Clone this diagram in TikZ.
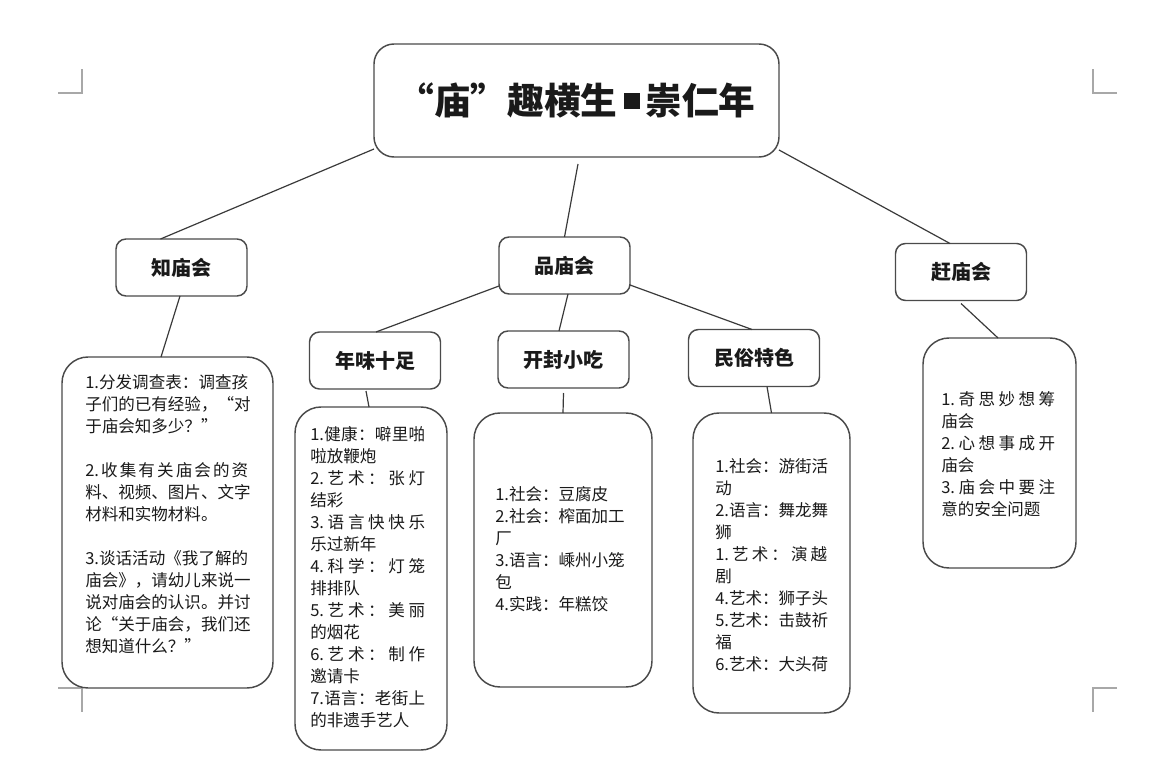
\documentclass[tikz,border=0pt]{standalone}
\usepackage{fontspec}
\setmainfont{Noto Sans CJK SC}
\newdimen\px \px=0.75pt
\def\jl#1#2{\hbox to #1{\jlx#2\relax}}
\def\jlx#1{\ifx\relax#1\else#1\expandafter\jly\fi}
\def\jly#1{\ifx\relax#1\else\hfill#1\expandafter\jly\fi}
\definecolor{boxcol}{HTML}{4A4A4A}
\definecolor{linecol}{HTML}{3A3A3A}
\definecolor{cropcol}{HTML}{A8A8A8}
\definecolor{txtcol}{HTML}{1A1A1A}
\tikzset{
  box/.style={draw=boxcol, line width=1.1pt, fill=white, outer sep=0pt, inner sep=0pt, text=txtcol},
  head/.style={box, rounded corners=10\px, minimum width=131\px, minimum height=57\px,
    font=\bfseries\fontsize{15pt}{18pt}\selectfont},
  tbox/.style={box, rounded corners=26\px},
  body/.style={inner sep=0pt, anchor=west, align=left, text=txtcol,
    font=\fontsize{12.4pt}{16.5pt}\selectfont},
  link/.style={draw=linecol, line width=0.9pt},
  crop/.style={draw=cropcol, line width=1.1pt}
}
\begin{document}
\begin{tikzpicture}[x=0.75pt,y=-0.75pt]
\useasboundingbox (0,0) rectangle (1163,766);
% crop marks
\draw[crop] (58,93) -- (82,93) -- (82,69);
\draw[crop] (1117,93) -- (1093,93) -- (1093,69);
\draw[crop] (58,688) -- (82,688) -- (82,712);
\draw[crop] (1117,688) -- (1093,688) -- (1093,712);
% title
\node[box, rounded corners=20\px, minimum width=405\px, minimum height=113\px,
  font=\bfseries\fontsize{27.5pt}{30pt}\selectfont] (title) at (576.5,100.5)
  {“庙”趣横生\,\rule[4.5pt]{12pt}{12pt}\,崇仁年};
% headings
\node[head] (zhi) at (181.5,267.5) {知庙会};
\node[head] (pin) at (564.5,265.5) {品庙会};
\node[head] (gan) at (961,272) {赶庙会};
\node[head] (nian) at (375,360.5) {年味十足};
\node[head] (kai) at (563.5,359.5) {开封小吃};
\node[head] (min) at (754,358) {民俗特色};
% text boxes
\node[tbox, minimum width=211\px, minimum height=331\px] (tzhi) at (167.5,522.5) {};
\node[tbox, minimum width=152\px, minimum height=343\px] (tnian) at (371,578.5) {};
\node[tbox, minimum width=178\px, minimum height=274\px] (tkai) at (563,550) {};
\node[tbox, minimum width=157\px, minimum height=300\px] (tmin) at (771.5,563) {};
\node[tbox, minimum width=153\px, minimum height=230\px] (tgan) at (999.5,453) {};
% texts
\node[body] (tzhi-t) at (85,514) {%
\jl{163\px}{{1.}分发调查表：调查孩}\\
\jl{163\px}{子们的已有经验，“对}\\
于庙会知多少？”\\[16.5pt]
\jl{163\px}{{2.}收集有关庙会的资}\\
\jl{163\px}{料、视频、图片、文字}\\
材料和实物材料。\\[16.5pt]
\jl{163\px}{{3.}谈话活动《我了解的}\\
\jl{163\px}{庙会》，请幼儿来说一}\\
\jl{163\px}{说对庙会的认识。并讨}\\
\jl{163\px}{论“关于庙会，我们还}\\
想知道什么？”};
\node[body] (tnian-t) at (310,577.5) {%
\jl{115\px}{{1.}健康：噼里啪}\\
啦放鞭炮\\
\jl{115\px}{{2.}艺术：张灯}\\
结彩\\
\jl{115\px}{{3.}语言快快乐}\\
乐过新年\\
\jl{115\px}{{4.}科学：灯笼}\\
排排队\\
\jl{115\px}{{5.}艺术：美丽}\\
的烟花\\
\jl{115\px}{{6.}艺术：制作}\\
邀请卡\\
\jl{115\px}{{7.}语言：老街上}\\
的非遗手艺人};
\node[body] (tkai-t) at (495,549.5) {%
1.社会：豆腐皮\\
2.社会：榨面加工\\
厂\\
3.语言：嵊州小笼\\
包\\
4.实践：年糕饺};
\node[body] (tmin-t) at (715,565) {%
1.社会：游街活\\
动\\
2.语言：舞龙舞\\
狮\\
\jl{112\px}{{1.}艺术：演越}\\
剧\\
4.艺术：狮子头\\
5.艺术：击鼓祈\\
福\\
6.艺术：大头荷};
\node[body] (tgan-t) at (941,454) {%
\jl{114\px}{{1.}奇思妙想筹}\\
庙会\\
\jl{114\px}{{2.}心想事成开}\\
庙会\\
\jl{114\px}{{3.}庙会中要注}\\
意的安全问题};
% connectors
\draw[link] ([yshift=8\px]title.south west) -- ([xshift=-21\px]zhi.north);
\draw[link] ([xshift=1.5\px,yshift=-7\px]title.south) -- (pin.north);
\draw[link] ([yshift=7\px]title.south east) -- ([xshift=-11\px]gan.north);
\draw[link] ([yshift=8\px]pin.south west) -- ([xshift=1\px]nian.north);
\draw[link] ([xshift=3.5\px]pin.south) -- ([xshift=-4.5\px]kai.north);
\draw[link] ([yshift=9\px]pin.south east) -- ([xshift=-2\px]min.north);
\draw[link] ([xshift=-1.5\px]zhi.south) -- ([xshift=-6.5\px]tzhi.north);
\draw[link] ([xshift=-9\px,yshift=-2\px]nian.south) -- ([xshift=-2\px]tnian.north);
\draw[link] ([yshift=-5\px]kai.south) -- (tkai.north);
\draw[link] ([xshift=13\px]min.south) -- (tmin.north);
\draw[link] ([yshift=-3\px]gan.south) -- ([xshift=-1.5\px]tgan.north);
\end{tikzpicture}
\end{document}
